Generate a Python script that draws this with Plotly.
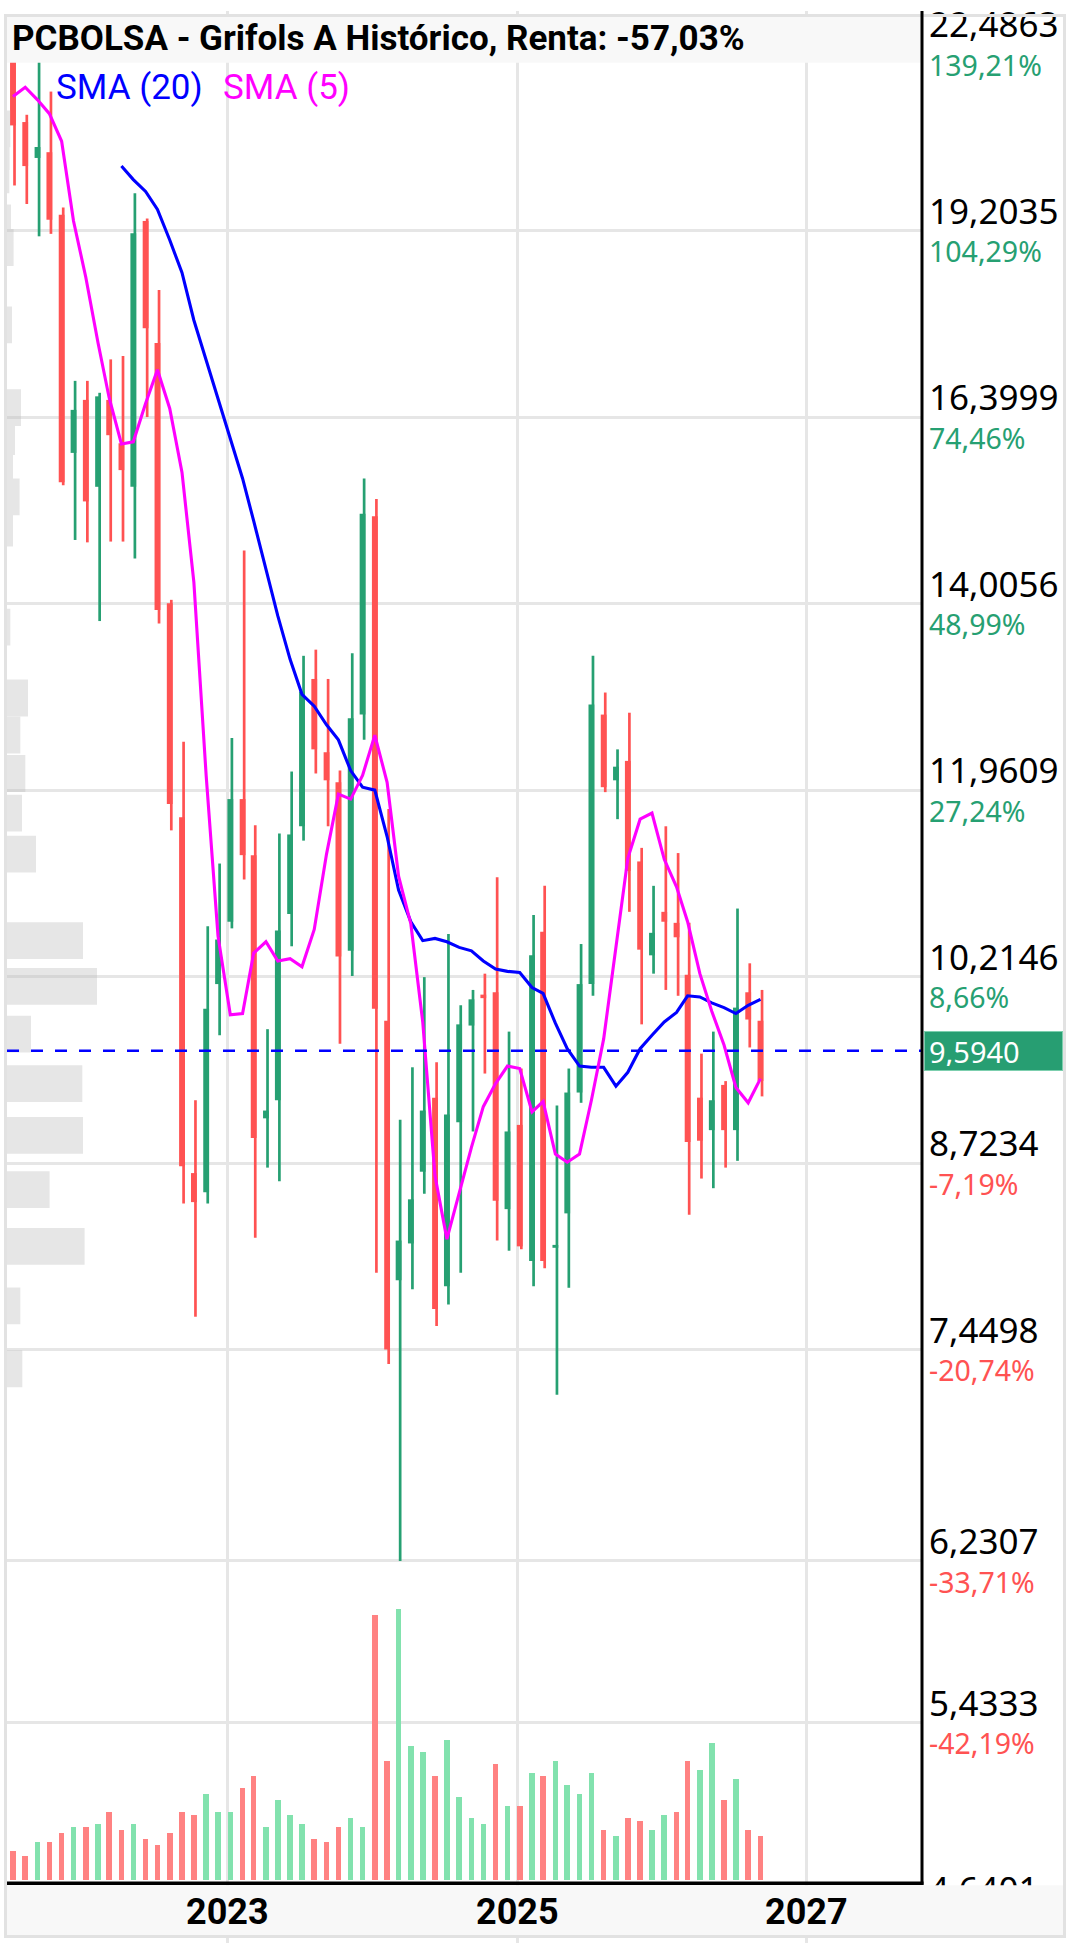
import numpy as np
import pandas as pd
import plotly.graph_objects as go

# ---------------- data ----------------
dates = pd.date_range("2021-07-01", periods=63, freq="MS") + pd.Timedelta(days=6)

opens = [22.35, 21.05, 20.42, 20.52, 19.46, 15.91, 16.64, 15.46, 16.64, 16.04,
         15.46, 19.36, 17.46, 14.01, 11.69, 8.65, 8.51, 10.15, 10.70, 11.87,
         11.32, 9.06, 9.20, 10.77, 11.60, 13.14, 12.35, 12.04, 10.44, 12.75,
         15.08, 9.84, 7.90, 8.15, 8.66, 9.22, 7.86, 9.03, 9.80, 10.06,
         10.08, 8.39, 9.01, 8.03, 10.61, 8.12, 8.36, 9.26, 10.15, 12.75,
         12.06, 12.26, 11.26, 10.40, 10.79, 10.69, 10.23, 9.22, 8.97, 9.32,
         8.97, 10.08, 9.84]
highs = [22.55, 21.18, 22.40, 21.60, 19.58, 16.91, 16.91, 16.74, 17.22, 17.27,
         19.82, 19.40, 18.26, 14.05, 12.46, 9.20, 10.66, 11.24, 12.50, 14.65,
         11.61, 9.77, 11.53, 12.15, 13.40, 13.47, 13.14, 12.16, 13.43, 15.57,
         15.30, 11.77, 9.05, 9.46, 10.21, 9.50, 10.59, 9.97, 10.10, 10.24,
         11.11, 9.75, 9.45, 10.76, 11.03, 9.16, 9.45, 10.50, 13.40, 12.99,
         12.38, 12.77, 11.39, 11.03, 11.60, 11.34, 10.69, 9.57, 9.75, 9.35,
         10.82, 10.33, 10.10]
lows = [19.95, 19.64, 19.11, 19.15, 15.48, 14.78, 14.75, 13.80, 14.76, 14.76,
        14.55, 16.40, 13.77, 11.56, 8.43, 7.66, 8.43, 9.72, 10.64, 11.09,
        8.19, 8.69, 8.59, 10.48, 11.46, 12.13, 11.60, 9.65, 10.22, 12.48,
        7.95, 7.36, 6.23, 7.84, 8.50, 7.60, 7.74, 7.95, 8.96, 9.41,
        8.17, 8.10, 8.11, 7.86, 7.98, 7.17, 7.85, 9.18, 10.05, 11.94,
        11.67, 10.79, 9.81, 10.24, 10.10, 10.05, 8.35, 8.61, 8.54, 8.69,
        8.74, 9.62, 9.23]
closes = [20.99, 20.28, 20.61, 19.38, 15.52, 16.50, 15.27, 16.69, 16.15, 15.68,
          19.16, 17.68, 13.93, 11.82, 8.70, 8.44, 9.94, 10.54, 11.87, 11.32,
          8.91, 9.12, 10.62, 11.52, 13.00, 12.38, 12.06, 10.39, 12.71, 15.11,
          9.94, 7.45, 8.17, 8.46, 9.12, 7.71, 9.09, 9.81, 10.02, 10.03,
          8.45, 8.96, 8.13, 10.40, 8.03, 8.14, 9.26, 10.15, 12.86, 11.99,
          12.20, 11.17, 10.45, 10.60, 10.70, 10.56, 8.88, 8.89, 9.20, 8.97,
          9.95, 9.85, 9.35]
volume = [90, 72, 116, 116, 143, 161, 161, 170, 206, 152,
          170, 125, 107, 143, 206, 197, 260, 206, 206, 278,
          314, 161, 242, 197, 170, 125, 116, 161, 188, 161,
          800, 359, 818, 404, 386, 314, 422, 251, 188, 170,
          350, 224, 224, 323, 314, 359, 287, 260, 323, 152,
          134, 188, 179, 152, 197, 206, 359, 332, 413, 242,
          305, 152, 134]
sma5 = [21.51, 21.68, 21.45, 21.20, 20.71, 19.36, 18.46, 17.46, 16.67, 16.03,
        16.06, 16.59, 17.07, 16.52, 15.65, 14.26, 12.11, 10.57, 9.89, 9.90,
        10.42, 10.52, 10.35, 10.37, 10.30, 10.63, 11.33, 11.92, 11.87, 12.11,
        12.53, 12.04, 11.12, 10.68, 9.83, 8.63, 8.18, 8.51, 8.84, 9.15,
        9.33, 9.47, 9.45, 9.11, 9.19, 8.79, 8.73, 8.79, 9.20, 9.69,
        10.48, 11.29, 11.67, 11.73, 11.28, 11.02, 10.70, 10.24, 9.92, 9.64,
        9.30, 9.18, 9.37]
sma20_start = 9
sma20 = [20.28, 20.05, 19.85, 19.55, 19.05, 18.53, 17.80, 17.21, 16.64, 16.07,
         15.57, 15.02, 14.42, 13.86, 13.36, 12.97, 12.84, 12.64, 12.48, 12.16,
         11.99, 11.96, 11.50, 10.99, 10.70, 10.53, 10.55, 10.52, 10.47, 10.44,
         10.35, 10.28, 10.26, 10.25, 10.12, 10.07, 9.82, 9.61, 9.47, 9.46,
         9.46, 9.31, 9.42, 9.61, 9.72, 9.83, 9.91, 10.05, 10.04, 9.99,
         9.95, 9.90, 9.97, 10.02]
profile_price = [7.33, 7.73, 8.13, 8.53, 8.93, 9.33, 9.73, 10.13, 10.53,
                 11.33, 11.73, 12.13, 12.53, 12.93, 13.73, 14.93, 15.33, 15.73,
                 16.13, 16.53, 17.73, 18.93, 19.33, 20.13, 20.53, 20.93]
profile_vol = [153, 133, 776, 426, 760, 753, 240, 900, 760,
               290, 150, 183, 133, 210, 33, 60, 126, 60,
               80, 140, 50, 66, 40, 23, 26, 33]

price_ticks = [22.4863, 19.2035, 16.3999, 14.0056, 11.9609, 10.2146,
               8.7234, 7.4498, 6.2307, 5.4333, 4.6401]
price_labels = ["22,4863", "19,2035", "16,3999", "14,0056", "11,9609", "10,2146",
                "8,7234", "7,4498", "6,2307", "5,4333", "4,6401"]
pct_values = [139.21, 104.29, 74.46, 48.99, 27.24, 8.66,
              -7.19, -20.74, -33.71, -42.19]
pct_labels = ["139,21%", "104,29%", "74,46%", "48,99%", "27,24%", "8,66%",
              "-7,19%", "-20,74%", "-33,71%", "-42,19%"]
last_price = 9.594
last_price_label = "9,5940"
year_ticks = ["2023-01-01", "2025-01-01", "2027-01-01"]
year_labels = ["2023", "2025", "2027"]
title_text = "PCBOLSA - Grifols A Histórico, Renta: -57,03%"
legend_labels = ["SMA (20)", "SMA (5)"]

# ---------------- style / geometry ----------------
W, H = 1076, 1943
PL, PR = 7, 922
PW = PR - PL
RED, GREEN = "#ff5252", "#26a072"
VRED, VGREEN = "#ff8282", "#82e2ae"
GRID = "#e6e6e6"
x_range = ["2021-06-22", "2027-10-20"]
y_lo, y_hi = np.log10(4.509), np.log10(23.124)
ppx = (y_hi - y_lo) / H


def pxx(p):
    return (p - PL) / PW


def pxy(p):
    return (H - p) / H


fig = go.Figure()

# volume profile (horizontal bars on price axis)
half = 0.01557
px_, py_ = [], []
for c, v in zip(profile_price, profile_vol):
    lo, hi = c * np.exp(-half), c * np.exp(half)
    px_ += [0, v, v, 0, 0, None]
    py_ += [lo, lo, hi, hi, lo, None]
fig.add_trace(go.Scatter(x=px_, y=py_, xaxis="x2", yaxis="y", mode="lines",
                         fill="toself", fillcolor="rgba(190,190,190,0.38)",
                         line=dict(width=0), hoverinfo="skip"))
# dashed last price line
fig.add_trace(go.Scatter(x=[0, 9150], y=[last_price, last_price], xaxis="x2", yaxis="y",
                         mode="lines", line=dict(color="#0000ff", width=2.5, dash="12px,12px"),
                         hoverinfo="skip"))

# volume bars
vcolors = []
for i in range(len(closes)):
    ref = opens[0] if i == 0 else closes[i - 1]
    vcolors.append(VGREEN if closes[i] > ref else VRED)
fig.add_trace(go.Bar(x=dates, y=volume, yaxis="y2", marker=dict(color=vcolors, line=dict(width=0)),
                     width=14.0 * 86400000, hoverinfo="skip"))

# candles
wick_off = pd.Timedelta(days=4)
for up, col in [(False, RED), (True, GREEN)]:
    wx, wy, bx, by = [], [], [], []
    for d, o, h, l, c in zip(dates, opens, highs, lows, closes):
        if (c >= o) != up:
            continue
        wx += [d + wick_off, d + wick_off, None]
        wy += [l, h, None]
        bx += [d, d, None]
        by += [o, c, None]
    fig.add_trace(go.Scatter(x=wx, y=wy, mode="lines", line=dict(color=col, width=2.7),
                             hoverinfo="skip", connectgaps=False))
    fig.add_trace(go.Scatter(x=bx, y=by, mode="lines", line=dict(color=col, width=5.8),
                             hoverinfo="skip", connectgaps=False))

# SMAs
fig.add_trace(go.Scatter(x=dates[sma20_start:], y=sma20, mode="lines",
                         line=dict(color="#0000ff", width=3.1), hoverinfo="skip"))
fig.add_trace(go.Scatter(x=dates, y=sma5, mode="lines",
                         line=dict(color="#ff00ff", width=3.1), hoverinfo="skip"))

# dummy traces for label axes
for ya in ["y3", "y4", "y5"]:
    fig.add_trace(go.Scatter(x=[dates[0]], y=[last_price], yaxis=ya, mode="markers",
                             marker=dict(opacity=0), hoverinfo="skip"))

pct_ticks = price_ticks[:len(pct_values)]
pos_v = [p for p, v in zip(pct_ticks, pct_values) if v >= 0]
pos_t = [t for t, v in zip(pct_labels, pct_values) if v >= 0]
neg_v = [p for p, v in zip(pct_ticks, pct_values) if v < 0]
neg_t = [t for t, v in zip(pct_labels, pct_values) if v < 0]

label_axis = dict(type="log", overlaying="y", side="right", anchor="x", showgrid=False,
                  zeroline=False, showline=False, ticks="", ticklabelstandoff=6,
                  ticklabeloverflow="allow", autorange=False)

fig.update_layout(
    width=W, height=H, margin=dict(l=PL, r=W - PR, t=0, b=0),
    paper_bgcolor="white", plot_bgcolor="white", showlegend=False,
    bargap=0,
    xaxis=dict(type="date", range=x_range, tickvals=year_ticks, showticklabels=False,
               showgrid=True, gridcolor=GRID, gridwidth=3, zeroline=False, showline=False,
               ticks=""),
    xaxis2=dict(overlaying="x", range=[0, 9150], visible=False),
    yaxis=dict(type="log", range=[y_lo, y_hi], tickvals=price_ticks, showticklabels=False,
               showgrid=True, gridcolor=GRID, gridwidth=3, zeroline=False, showline=False,
               ticks=""),
    yaxis2=dict(overlaying="y", range=[-189, 5640], visible=False),
    yaxis3=dict(**label_axis, range=[y_lo - 19 * ppx, y_hi - 19 * ppx], tickvals=price_ticks,
                ticktext=price_labels, tickfont=dict(family="Noto Sans", size=35, color="#000")),
    yaxis4=dict(**label_axis, range=[y_lo + 22 * ppx, y_hi + 22 * ppx], tickvals=pos_v,
                ticktext=pos_t, tickfont=dict(family="Noto Sans", size=28.5, color=GREEN)),
    yaxis5=dict(**label_axis, range=[y_lo + 22 * ppx, y_hi + 22 * ppx], tickvals=neg_v,
                ticktext=neg_t, tickfont=dict(family="Noto Sans", size=28.5, color=RED)),
)

shapes = [
    # title band
    dict(type="rect", xref="paper", yref="paper", x0=pxx(7), x1=pxx(PR), y0=pxy(52), y1=pxy(5),
         fillcolor="#f8f8f8", line=dict(width=0), layer="above"),
    # x label band
    dict(type="rect", xref="paper", yref="paper", x0=pxx(7), x1=pxx(1064), y0=pxy(1935), y1=pxy(1885),
         fillcolor="#f8f8f8", line=dict(width=0), layer="above"),
    # outer frame
    dict(type="rect", xref="paper", yref="paper", x0=pxx(5.5), x1=pxx(1064.5), y0=pxy(1936.5),
         y1=pxy(4.5), fillcolor="rgba(0,0,0,0)", line=dict(color="#e2e2e2", width=3), layer="above"),
    # axis lines
    dict(type="line", xref="paper", yref="paper", x0=pxx(PR), x1=pxx(PR), y0=pxy(1884.5), y1=pxy(0),
         line=dict(color="#000", width=3), layer="above"),
    dict(type="line", xref="paper", yref="paper", x0=pxx(7), x1=pxx(PR + 1.5), y0=pxy(1883),
         y1=pxy(1883), line=dict(color="#000", width=3.5), layer="above"),
]
fig.update_layout(shapes=shapes)

ann = [
    dict(text=title_text, xref="paper", yref="paper", x=pxx(10), y=pxy(28), xanchor="left",
         yanchor="middle", showarrow=False,
         font=dict(family="Roboto", size=35, color="#000", weight="bold")),
    dict(text=legend_labels[0], xref="paper", yref="paper", x=pxx(54), y=pxy(77), xanchor="left",
         yanchor="middle", showarrow=False, font=dict(family="Roboto", size=35, color="#0000ff")),
    dict(text=legend_labels[1], xref="paper", yref="paper", x=pxx(221), y=pxy(77), xanchor="left",
         yanchor="middle", showarrow=False, font=dict(family="Roboto", size=35, color="#ff00ff")),
    dict(text=last_price_label, xref="paper", yref="y", x=pxx(924), y=np.log10(last_price),
         xanchor="left", yanchor="middle", showarrow=False, align="left", width=129, height=30,
         borderpad=4, borderwidth=1, bordercolor="#7ccfae", bgcolor="#279e72",
         font=dict(family="Noto Sans", size=29, color="white")),
]
for d, t in zip(year_ticks, year_labels):
    ann.append(dict(text=t, xref="x", yref="paper", x=d, y=pxy(1912), xanchor="center",
                    yanchor="middle", showarrow=False,
                    font=dict(family="Roboto", size=36, color="#000", weight="bold")))
fig.update_layout(annotations=ann)

fig.write_html("out.html", config={"displayModeBar": False},
               post_script="document.body.style.margin='0px';")
